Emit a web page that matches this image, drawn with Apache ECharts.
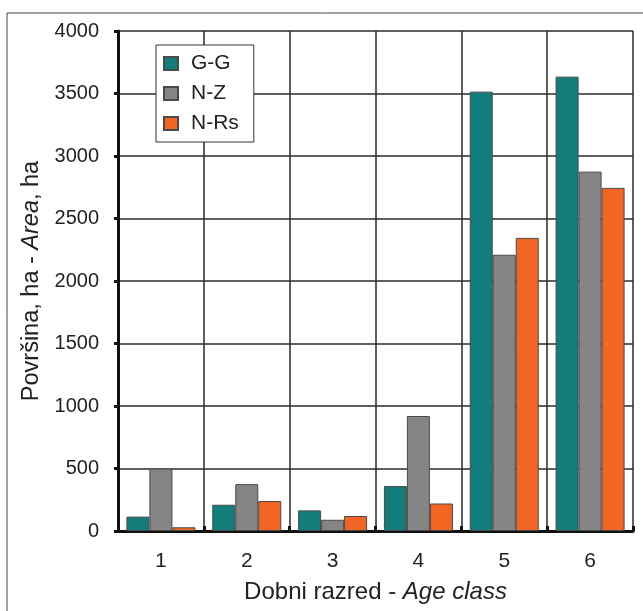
<!DOCTYPE html>
<html>
<head>
<meta charset="utf-8">
<script src="https://cdn.jsdelivr.net/npm/echarts@6/dist/echarts.min.js"></script>
<style>
  html, body { margin: 0; padding: 0; background: #fff; }
  #chart { width: 643px; height: 611px; }
</style>
</head>
<body>
<div id="chart"></div>
<script>
const categories = ['1', '2', '3', '4', '5', '6'];
const seriesNames = ['G-G', 'N-Z', 'N-Rs'];
const valuesGG = [115, 210, 165, 360, 3515, 3635];
const valuesNZ = [500, 375, 90, 920, 2210, 2875];
const valuesNRs = [30, 240, 120, 220, 2345, 2745];
const yTicks = [0, 500, 1000, 1500, 2000, 2500, 3000, 3500, 4000];

const FONT = '"Liberation Sans", Arial, Helvetica, sans-serif';
const colors = ['#127d7b', '#858585', '#f26522'];

const chart = echarts.init(document.getElementById('chart'), null, { renderer: 'canvas' });

function bar(name, data, color) {
  return {
    name: name,
    type: 'bar',
    data: data,
    barWidth: 23,
    barGap: '0%',
    itemStyle: { color: color, borderColor: '#4a4a4a', borderWidth: 1 },
    emphasis: { disabled: true }
  };
}

chart.setOption({
  animation: false,
  backgroundColor: '#ffffff',
  textStyle: { fontFamily: FONT },
  graphic: [{
    type: 'rect',
    shape: { x: 7, y: 13, width: 700, height: 700 },
    style: { fill: 'none', stroke: '#444', lineWidth: 1 },
    z: -10
  }],
  grid: { left: 118, right: 10, top: 31, bottom: 80, containLabel: false },
  legend: {
    data: seriesNames,
    orient: 'vertical',
    left: 156,
    top: 45,
    backgroundColor: '#fff',
    borderColor: '#333',
    borderWidth: 1,
    padding: [8, 15, 8, 7],
    itemWidth: 14,
    itemHeight: 13,
    itemGap: 9,
    icon: 'rect',
    textStyle: { fontFamily: FONT, fontSize: 21, color: '#222', padding: [0, 0, 0, 8] },
    selectedMode: false
  },
  xAxis: {
    type: 'category',
    data: categories,
    boundaryGap: true,
    axisLine: { lineStyle: { color: '#111', width: 3 } },
    axisTick: { show: true, inside: true, length: 5, lineStyle: { color: '#111', width: 3 } },
    axisLabel: { fontFamily: FONT, fontSize: 21, color: '#222', margin: 20 },
    splitLine: { show: true, lineStyle: { color: '#2a2a2a', width: 1.5 } },
    name: '{n|Dobni razred - }{i|Age class}',
    nameLocation: 'middle',
    nameGap: 49,
    nameTextStyle: {
      rich: {
        n: { fontFamily: FONT, fontSize: 24, color: '#222' },
        i: { fontFamily: FONT, fontSize: 24, color: '#222', fontStyle: 'italic' }
      }
    }
  },
  yAxis: {
    type: 'value',
    min: 0,
    max: 4000,
    interval: 500,
    axisLine: { show: true, lineStyle: { color: '#111', width: 3 } },
    axisTick: { show: true, length: 4, lineStyle: { color: '#111', width: 3 } },
    axisLabel: {
      fontFamily: FONT, fontSize: 20, color: '#222', margin: 19,
      formatter: function (v) { return String(v); }
    },
    splitLine: { show: true, lineStyle: { color: '#2a2a2a', width: 1.5 } },
    name: '{n|Površina, ha - }{i|Area}{n|, ha}',
    nameLocation: 'middle',
    nameGap: 71,
    nameRotate: 90,
    nameTextStyle: {
      rich: {
        n: { fontFamily: FONT, fontSize: 23.5, color: '#222' },
        i: { fontFamily: FONT, fontSize: 23.5, color: '#222', fontStyle: 'italic' }
      }
    }
  },
  series: [
    bar(seriesNames[0], valuesGG, colors[0]),
    bar(seriesNames[1], valuesNZ, colors[1]),
    bar(seriesNames[2], valuesNRs, colors[2])
  ]
});
</script>
</body>
</html>
